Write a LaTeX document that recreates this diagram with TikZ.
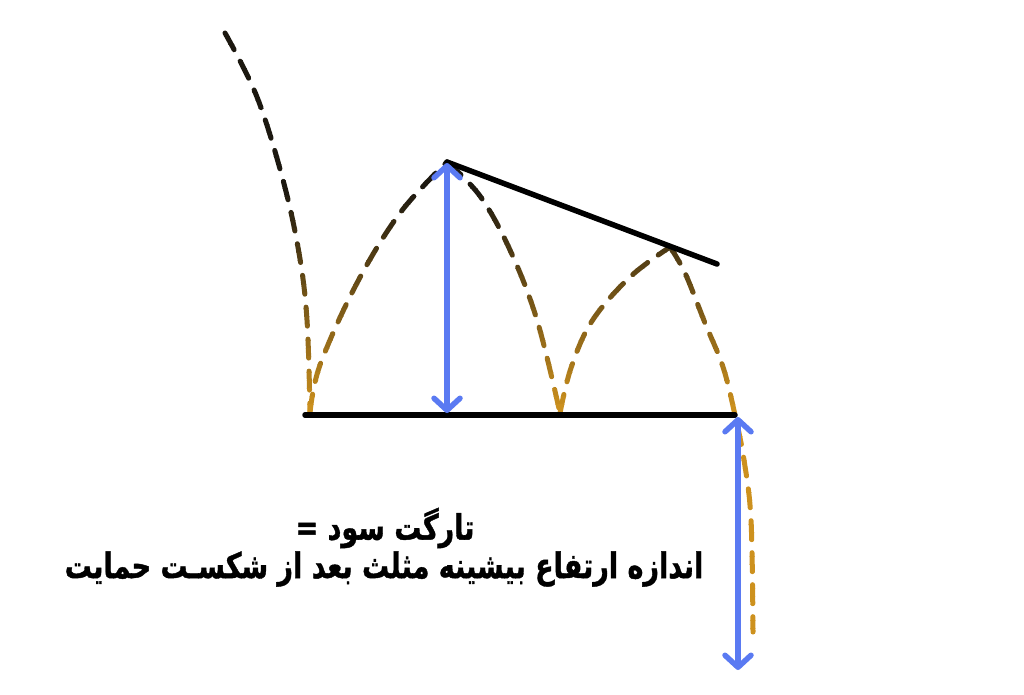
\documentclass[tikz,border=0pt]{standalone}
\usepackage{fontspec}
\usetikzlibrary{arrows.meta}
\TeXXeTstate=1
\newfontfamily\arabicfont[Script=Arabic, BoldFeatures={FakeBold=1.2}]{DejaVu Sans}
\definecolor{goldc}{RGB}{205,145,30}
\definecolor{darkc}{RGB}{28,24,16}
\definecolor{bluec}{RGB}{90,122,242}
\tikzset{
  wave/.style={line width=5pt, line cap=round, dash pattern=on 19pt off 13pt},
  level/.style={line width=5.5pt, line cap=round, black},
  measure/.style={line width=5.5pt, bluec, {Straight Barb[length=12pt,width=26pt,line cap=round,line join=round]}-{Straight Barb[length=12pt,width=26pt,line cap=round,line join=round]}},
  label/.style={font=\arabicfont\bfseries\fontsize{27}{30}\selectfont, inner sep=0pt}
}
\begin{document}
\begin{tikzpicture}[x=1pt,y=-1pt]
\useasboundingbox (0,0) rectangle (1024,694);
% key points
\coordinate (p0) at (225,33);
\coordinate (l1) at (310,413);
\coordinate (h1) at (447,162);
\coordinate (l2) at (560,413);
\coordinate (h2) at (670,247);
\coordinate (brk) at (735,415);
\coordinate (end) at (753,632);
\coordinate (s0) at (305,415);
\coordinate (t1e) at (717,264);
% gradient-coloured dashed price path, drawn in horizontal bands
\foreach \yy in {20,28,...,700}{
  \pgfmathtruncatemacro{\pp}{max(0,min(100,100*(1-(405-\yy)/220)))}
  \colorlet{bandc}{goldc!\pp!darkc}
  \begin{scope}
    \clip (0,\yy) rectangle (1024,\yy+8);
    \draw[wave, bandc] plot[smooth, tension=0.6] coordinates {(p0) (257,97) (283,180) (299,253) (307,320) (l1)};
    \draw[wave, bandc] plot[smooth, tension=0.6] coordinates {(l1) (320,365) (357,283) (400,213) (h1)};
    \draw[wave, bandc] plot[smooth, tension=0.6] coordinates {(h1) (480,196) (510,250) (537,320) (l2)};
    \draw[wave, bandc] plot[smooth, tension=0.6] coordinates {(l2) (571,368) (592,321) (630,277) (h2)};
    \draw[wave, bandc] plot[smooth, tension=0.6] coordinates {(h2) (685,273) (705,323) (723,367) (brk) (744,460) (751,520) (end)};
  \end{scope}
}
% support and descending trendline
\draw[level] (s0) -- (brk);
\draw[level] (h1) -- (t1e);
% measuring arrows
\coordinate (a1t) at (447,163);
\coordinate (a1b) at (447,413);
\coordinate (a2t) at (738,417);
\coordinate (a2b) at (738,670);
\draw[measure] (a1b) -- (a1t);
\draw[measure] (a2b) -- (a2t);
% text
\node[label] (txt1) at (385,528) {\scalebox{1}[1.3]{\beginR تارگت سود =\endR}};
\node[label] (txt2) at (384,569) {\scalebox{1}[1.3]{\beginR اندازه ارتفاع بیشینه مثلث بعد از شکسـت حمایت\endR}};
\end{tikzpicture}
\end{document}
